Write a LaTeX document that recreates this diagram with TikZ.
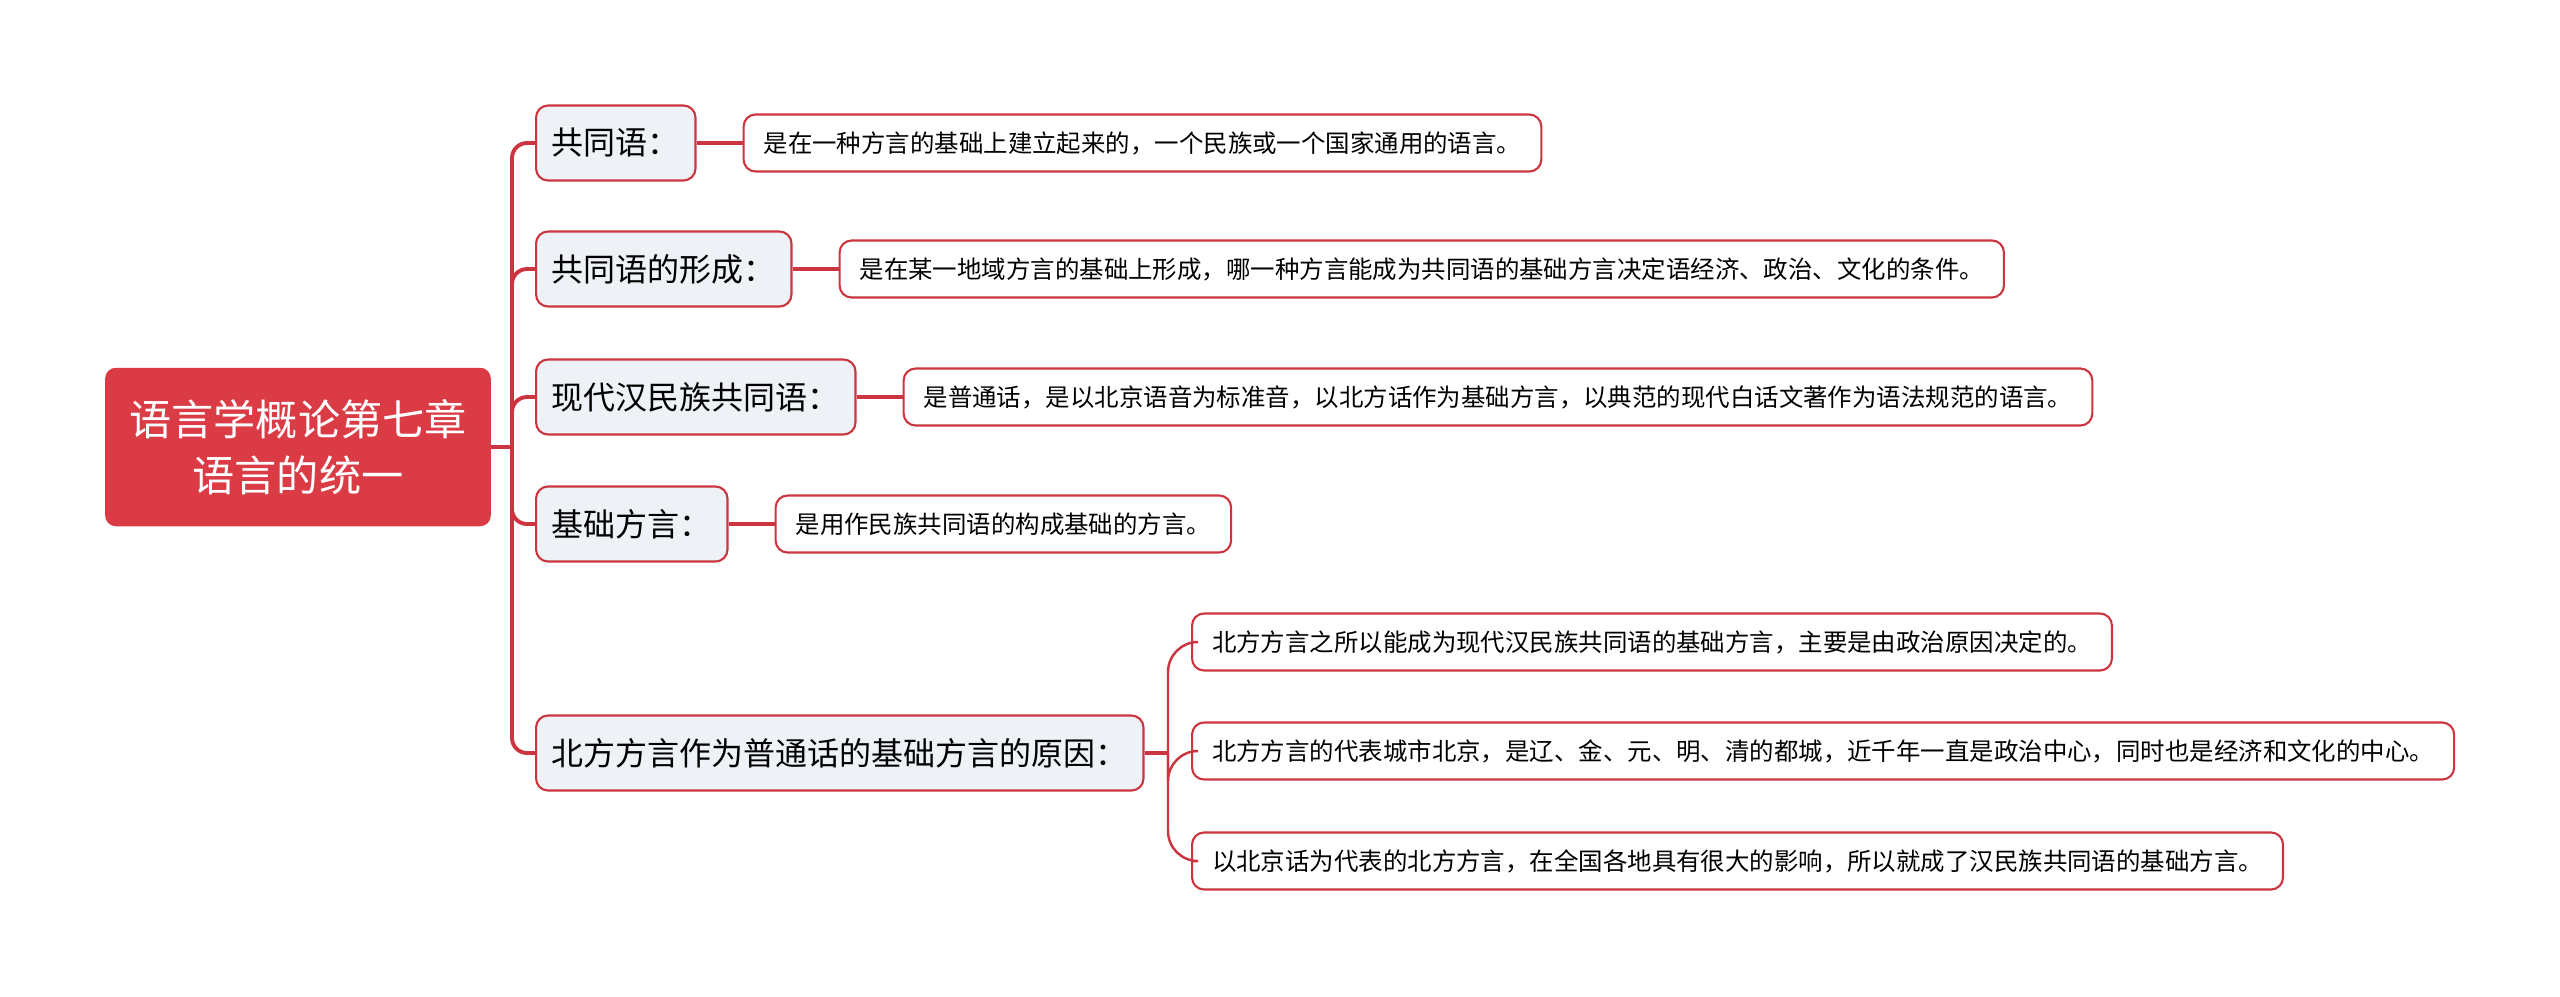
\documentclass[tikz,border=0pt]{standalone}
\usepackage{fontspec}
\setmainfont{Noto Sans CJK SC}
\usetikzlibrary{positioning}
\definecolor{rootred}{HTML}{DA3B45}
\definecolor{linkred}{HTML}{CB353F}
\definecolor{topicgray}{HTML}{EEF1F5}
\tikzset{
  root/.style={fill=rootred, draw=rootred, rounded corners=0.1cm, text=white,
    align=center, minimum width=3.84cm, minimum height=1.57cm,
    font=\fontsize{12pt}{15.9pt}\selectfont},
  topic/.style={fill=topicgray, draw=linkred, line width=0.6pt, rounded corners=0.12cm,
    anchor=west, inner xsep=0.157cm, minimum height=0.75cm,
    font=\fontsize{9.1pt}{11pt}\selectfont},
  detail/.style={fill=white, draw=linkred, line width=0.6pt, rounded corners=0.12cm,
    inner xsep=0.2cm, minimum height=0.57cm,
    font=\fontsize{6.95pt}{8pt}\selectfont},
  link/.style={draw=linkred, line width=1.1pt, rounded corners=0.15cm}
}
\begin{document}
\begin{tikzpicture}[x=0.01cm, y=-0.01cm]
      \useasboundingbox (0,0) rectangle (2560,996);
      \draw
        (298,447) node[root] (root){语言学概论第七章\\语言的统一}
        (535,143) node[topic] (t1){共同语：}
        (535,269) node[topic] (t2){共同语的形成：}
        (535,397) node[topic] (t3){现代汉民族共同语：}
        (535,524) node[topic] (t4){基础方言：}
        (535,753) node[topic] (t5){北方方言作为普通话的基础方言的原因：};
      \node[detail, right=0.46cm of t1] (d1){是在一种方言的基础上建立起来的，一个民族或一个国家通用的语言。};
      \node[detail, right=0.46cm of t2] (d2){是在某一地域方言的基础上形成，哪一种方言能成为共同语的基础方言决定语经济、政治、文化的条件。};
      \node[detail, right=0.46cm of t3] (d3){是普通话，是以北京语音为标准音，以北方话作为基础方言，以典范的现代白话文著作为语法规范的语言。};
      \node[detail, right=0.46cm of t4] (d4){是用作民族共同语的构成基础的方言。};
      \node[detail, anchor=west] (d5) at (1191,642){北方方言之所以能成为现代汉民族共同语的基础方言，主要是由政治原因决定的。};
      \node[detail, anchor=west] (d6) at (1191,751){北方方言的代表城市北京，是辽、金、元、明、清的都城，近千年一直是政治中心，同时也是经济和文化的中心。};
      \node[detail, anchor=west] (d7) at (1191,861){以北京话为代表的北方方言，在全国各地具有很大的影响，所以就成了汉民族共同语的基础方言。};
      \coordinate (fork) at (512,447);
      \coordinate (fork5) at (1168,753);
      \begin{scope}[link]
        \draw (root.east) -- (fork);
        \draw (fork) |- (t1.west);
        \draw (fork) |- (t2.west);
        \draw (fork) |- (t3.west);
        \draw (fork) |- (t4.west);
        \draw (fork) |- (t5.west);
        \draw[line width=0.9pt] (t1.east) -- (d1.west);
        \draw[line width=0.9pt] (t2.east) -- (d2.west);
        \draw[line width=0.9pt] (t3.east) -- (d3.west);
        \draw[line width=0.9pt] (t4.east) -- (d4.west);
        \draw[line width=0.9pt] (t5.east) -- (fork5);
        \draw[line width=0.7pt, rounded corners=0.3cm] (fork5) |- (d5.west);
        \draw[line width=0.7pt, rounded corners=0.3cm] (fork5) |- (d6.west);
        \draw[line width=0.7pt, rounded corners=0.3cm] (fork5) |- (d7.west);
      \end{scope}
    \end{tikzpicture}
\end{document}
